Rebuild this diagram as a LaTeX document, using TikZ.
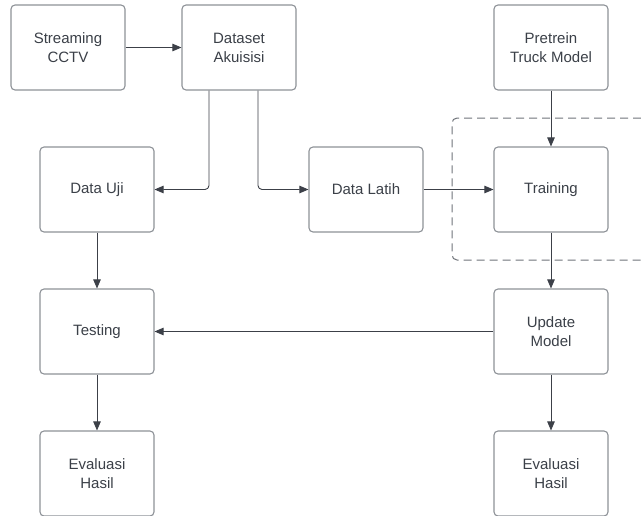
\documentclass[tikz,border=0pt]{standalone}
\usepackage{fontspec}
\setmainfont{Liberation Sans}
\usetikzlibrary{arrows.meta}
\definecolor{boxline}{HTML}{8E9298}
\definecolor{txt}{HTML}{3B4048}
\definecolor{arr}{HTML}{3C4048}
\definecolor{dash}{HTML}{70747A}
\begin{document}
\begin{tikzpicture}[x=1pt,y=-1pt,
  blk/.style={draw=boxline,line width=1.1pt,rounded corners=4pt,minimum width=114pt,minimum height=85pt,
    align=center,text=txt,inner sep=0pt,font=\fontsize{15}{19}\selectfont},
  link/.style={draw=arr,line width=0.9pt,-{Triangle[length=9pt,width=7.5pt]},rounded corners=4pt},
  grp/.style={draw=dash,line width=1pt,dash pattern=on 8pt off 5pt,rounded corners=5pt}]
\useasboundingbox (0,0) rectangle (641,515);
\fill[white] (0,0) rectangle (641,515);
\draw[grp] (680,118) -| (452,260) -- (680,260);
\node[blk] (sc) at (68,47.5) {Streaming\\CCTV};
\node[blk] (da) at (239,47.5) {Dataset\\Akuisisi};
\node[blk] (pt) at (551,47.5) {Pretrein\\Truck Model};
\node[blk] (du) at (97,189.5) {Data Uji};
\node[blk] (dl) at (366,189.5) {Data Latih};
\node[blk] (tr) at (551,189.5) {Training};
\node[blk] (te) at (97,331.5) {Testing};
\node[blk] (um) at (551,331.5) {Update\\Model};
\node[blk] (e1) at (97,473.5) {Evaluasi\\Hasil};
\node[blk] (e2) at (551,473.5) {Evaluasi\\Hasil};
\draw[link] (sc) -- (da);
\draw[link] ([xshift=-30pt]da.south) |- (du.east);
\draw[link] ([xshift=19pt]da.south) |- (dl.west);
\draw[link] (dl) -- (tr);
\draw[link] (pt) -- (tr);
\draw[link] (tr) -- (um);
\draw[link] (um) -- (te);
\draw[link] (du) -- (te);
\draw[link] (te) -- (e1);
\draw[link] (um) -- (e2);
\end{tikzpicture}
\end{document}
